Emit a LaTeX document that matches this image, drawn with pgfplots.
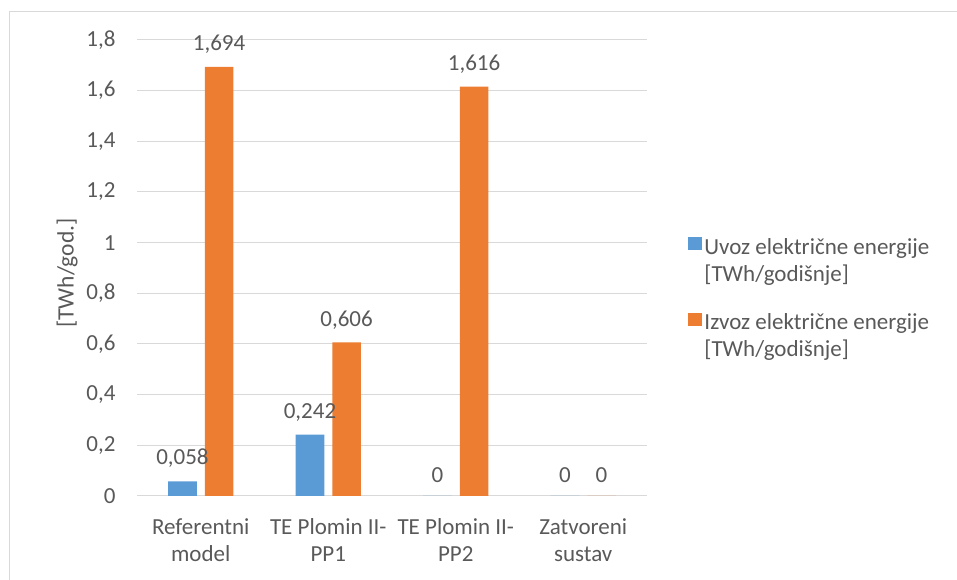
\documentclass[border=0pt]{standalone}
\usepackage{fontspec}
\setmainfont{Carlito}
\usepackage{pgfplots}
\pgfplotsset{compat=1.18}
\definecolor{cblue}{HTML}{5B9BD5}
\definecolor{corange}{HTML}{ED7D31}
\definecolor{ctext}{HTML}{595959}
\definecolor{cgrid}{HTML}{D9D9D9}
\begin{document}
\begin{tikzpicture}[x=1pt,y=1pt]
\path[use as bounding box] (0,0) rectangle (957,580);
\draw[cgrid, line width=1.5pt] (9.5,0) -- (9.5,568.5) -- (957,568.5);
\begin{axis}[
  at={(137pt,84pt)}, anchor=south west,
  scale only axis, width=510pt, height=456pt,
  xmin=-0.5, xmax=3.5, ymin=0, ymax=1.8,
  xtick={0,1,2,3},
  xticklabels={{Referentni\\model},{TE Plomin II-\\PP1},{TE Plomin II-\\PP2},{Zatvoreni\\sustav}},
  xticklabel style={align=center, font=\fontsize{23}{27}\selectfont, text=ctext, yshift=-19pt},
  ytick={0,0.2,0.4,0.6,0.8,1,1.2,1.4,1.6,1.8},
  yticklabel style={font=\fontsize{23}{27}\selectfont, text=ctext, xshift=-18pt, /pgf/number format/.cd, use comma, fixed, precision=1, assume math mode=true},
  major tick length=0pt,
  ymajorgrids, grid style={cgrid, line width=1pt},
  axis line style={draw=none},
  ylabel={[TWh/god.]},
  ylabel style={font=\fontsize{23.5}{27}\selectfont, text=ctext, yshift=2pt, xshift=-5pt},
  ybar, bar width=28.6pt,
  nodes near coords,
  every node near coord/.append style={font=\fontsize{23}{27}\selectfont, text=ctext, yshift=10pt, /pgf/number format/.cd, use comma, fixed, precision=3, assume math mode=true},
  legend style={draw=none, at={(1.075,0.451)}, anchor=west, font=\fontsize{23}{27}\selectfont, text=ctext, row sep=37pt, legend cell align=left},
  legend image code/.code={\fill[#1] (0pt,2pt) rectangle (14pt,15pt);},
  clip=false,
]
\addplot[fill=cblue, draw=none, bar shift=-18.3pt] coordinates {(0,0.058) (1,0.242) (2,0) (3,0)};
\addplot[fill=corange, draw=none, bar shift=18.3pt] coordinates {(0,1.694) (1,0.606) (2,1.616) (3,0)};
\legend{{\begin{tabular}{@{}l@{}}Uvoz električne energije\\\relax[TWh/godišnje]\end{tabular}},{\begin{tabular}{@{}l@{}}Izvoz električne energije\\\relax[TWh/godišnje]\end{tabular}}}
\end{axis}
\end{tikzpicture}
\end{document}
